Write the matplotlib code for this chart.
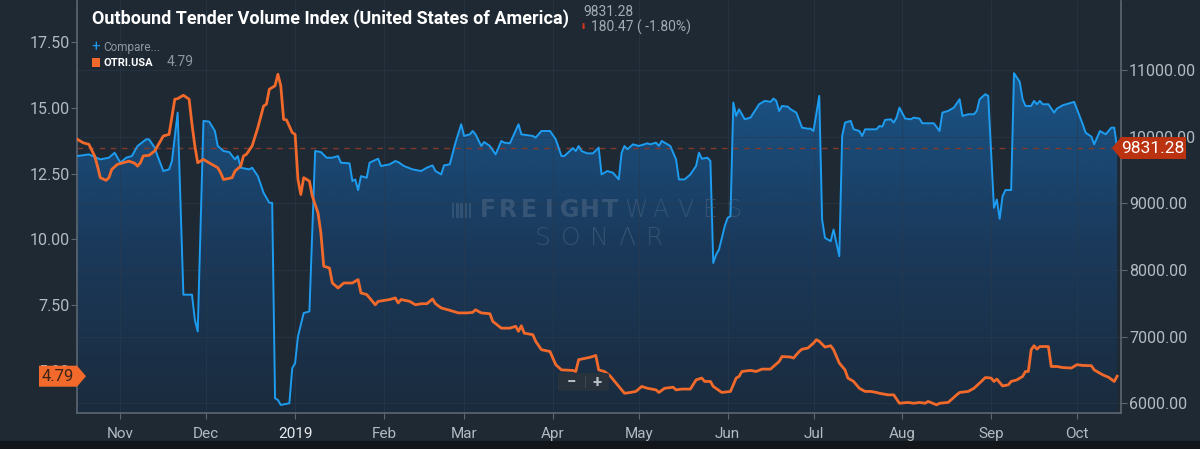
import numpy as np
import pandas as pd
import matplotlib
matplotlib.use('Agg')
import matplotlib.pyplot as plt
import matplotlib.dates as mdates
from matplotlib.colors import LinearSegmentedColormap
from matplotlib.patches import Polygon, Rectangle, FancyBboxPatch

# === Data ===
# Outbound Tender Volume Index (right axis, blue)
tvi_dates = [
    '2018-10-17', '2018-10-21', '2018-10-25', '2018-10-28', '2018-10-30', '2018-11-01', '2018-11-03', '2018-11-05',
    '2018-11-07', '2018-11-10', '2018-11-11', '2018-11-13', '2018-11-14', '2018-11-16', '2018-11-18', '2018-11-19',
    '2018-11-21', '2018-11-23', '2018-11-26', '2018-11-27', '2018-11-28', '2018-11-30', '2018-12-02', '2018-12-04',
    '2018-12-05', '2018-12-07', '2018-12-09', '2018-12-11', '2018-12-12', '2018-12-13', '2018-12-16', '2018-12-17',
    '2018-12-19', '2018-12-21', '2018-12-23', '2018-12-24', '2018-12-25', '2018-12-26', '2018-12-27', '2018-12-30',
    '2018-12-31', '2019-01-01', '2019-01-02', '2019-01-04', '2019-01-06', '2019-01-08', '2019-01-10', '2019-01-12',
    '2019-01-14', '2019-01-16', '2019-01-17', '2019-01-20', '2019-01-21', '2019-01-22', '2019-01-23', '2019-01-24',
    '2019-01-26', '2019-01-27', '2019-01-30', '2019-01-31', '2019-02-03', '2019-02-05', '2019-02-06', '2019-02-08',
    '2019-02-11', '2019-02-14', '2019-02-16', '2019-02-18', '2019-02-19', '2019-02-21', '2019-02-22', '2019-02-24',
    '2019-02-26', '2019-02-28', '2019-03-01', '2019-03-03', '2019-03-04', '2019-03-05', '2019-03-07', '2019-03-08',
    '2019-03-10', '2019-03-12', '2019-03-14', '2019-03-15', '2019-03-17', '2019-03-20', '2019-03-21', '2019-03-25',
    '2019-03-26', '2019-03-28', '2019-03-31', '2019-04-02', '2019-04-04', '2019-04-05', '2019-04-08', '2019-04-09',
    '2019-04-10', '2019-04-11', '2019-04-13', '2019-04-15', '2019-04-17', '2019-04-18', '2019-04-20', '2019-04-22',
    '2019-04-24', '2019-04-25', '2019-04-26', '2019-04-27', '2019-04-29', '2019-05-01', '2019-05-04', '2019-05-05',
    '2019-05-07', '2019-05-08', '2019-05-09', '2019-05-12', '2019-05-14', '2019-05-15', '2019-05-17', '2019-05-19',
    '2019-05-21', '2019-05-22', '2019-05-23', '2019-05-25', '2019-05-26', '2019-05-27', '2019-05-28', '2019-05-29',
    '2019-05-31', '2019-06-01', '2019-06-02', '2019-06-03', '2019-06-04', '2019-06-05', '2019-06-07', '2019-06-09',
    '2019-06-12', '2019-06-14', '2019-06-16', '2019-06-17', '2019-06-18', '2019-06-19', '2019-06-20', '2019-06-22',
    '2019-06-23', '2019-06-25', '2019-06-27', '2019-06-29', '2019-06-30', '2019-07-01', '2019-07-03', '2019-07-04',
    '2019-07-05', '2019-07-07', '2019-07-08', '2019-07-09', '2019-07-10', '2019-07-11', '2019-07-12', '2019-07-14',
    '2019-07-15', '2019-07-17', '2019-07-18', '2019-07-19', '2019-07-23', '2019-07-24', '2019-07-25', '2019-07-26',
    '2019-07-28', '2019-07-29', '2019-07-30', '2019-07-31', '2019-08-02', '2019-08-04', '2019-08-05', '2019-08-07',
    '2019-08-08', '2019-08-12', '2019-08-14', '2019-08-15', '2019-08-17', '2019-08-19', '2019-08-21', '2019-08-22',
    '2019-08-24', '2019-08-26', '2019-08-27', '2019-08-28', '2019-08-30', '2019-08-31', '2019-09-02', '2019-09-03',
    '2019-09-04', '2019-09-05', '2019-09-06', '2019-09-08', '2019-09-09', '2019-09-11', '2019-09-12', '2019-09-13',
    '2019-09-15', '2019-09-16', '2019-09-17', '2019-09-18', '2019-09-19', '2019-09-21', '2019-09-23', '2019-09-24',
    '2019-09-26', '2019-09-30', '2019-10-01', '2019-10-03', '2019-10-04', '2019-10-06', '2019-10-07', '2019-10-09',
    '2019-10-11', '2019-10-13', '2019-10-14', '2019-10-15',
]
tvi_values = [
    9711, 9736, 9661, 9686, 9761, 9611, 9686, 9711,
    9862, 9962, 9962, 9837, 9711, 9486, 9511, 9636,
    10363, 7630, 7630, 7254, 7078, 10238, 10228, 10087,
    9862, 9786, 9771, 9661, 9711, 9536, 9511, 9536,
    9410, 9159, 9009, 9009, 6075, 6050, 5975, 6000,
    6527, 6602, 7003, 7354, 7379, 9786, 9771, 9686,
    9686, 9711, 9611, 9601, 9335, 9360, 9200, 9410,
    9385, 9611, 9671, 9561, 9586, 9636, 9621, 9561,
    9511, 9486, 9536, 9571, 9486, 9435, 9571, 9586,
    9912, 10188, 10012, 10037, 10087, 10037, 9862, 9922,
    9862, 9736, 9937, 9912, 9902, 10188, 10037, 10012,
    9987, 10087, 10087, 9962, 9711, 9711, 9830, 9786,
    9862, 9786, 9751, 9751, 9837, 9435, 9486, 9460,
    9360, 9761, 9862, 9812, 9887, 9862, 9902, 9887,
    9912, 9862, 9937, 9862, 9661, 9360, 9360, 9435,
    9561, 9761, 9671, 9686, 9636, 8106, 8232, 8307,
    8658, 8783, 8808, 10514, 10313, 10413, 10263, 10288,
    10488, 10539, 10524, 10574, 10540, 10388, 10463, 10453,
    10413, 10363, 10137, 10122, 10122, 10087, 10614, 8758,
    8483, 8432, 8608, 8407, 8207, 10012, 10213, 10238,
    10112, 10087, 10012, 10112, 10112, 10162, 10152, 10253,
    10263, 10213, 10288, 10438, 10273, 10263, 10288, 10273,
    10203, 10203, 10087, 10363, 10388, 10438, 10564, 10313,
    10338, 10338, 10388, 10564, 10639, 10614, 8934, 9059,
    8768, 9109, 9200, 9200, 10955, 10824, 10564, 10463,
    10463, 10539, 10488, 10539, 10488, 10488, 10363, 10423,
    10473, 10524, 10413, 10188, 10062, 10002, 9887, 10087,
    10037, 10137, 10137, 9831.28,
]

# Outbound Tender Reject Index OTRI.USA (left axis, orange)
otri_dates = [
    '2018-10-17', '2018-10-19', '2018-10-21', '2018-10-23', '2018-10-24', '2018-10-25', '2018-10-27', '2018-10-28',
    '2018-10-29', '2018-10-31', '2018-11-03', '2018-11-04', '2018-11-06', '2018-11-07', '2018-11-08', '2018-11-09',
    '2018-11-11', '2018-11-13', '2018-11-14', '2018-11-16', '2018-11-18', '2018-11-20', '2018-11-21', '2018-11-23',
    '2018-11-25', '2018-11-26', '2018-11-27', '2018-11-28', '2018-11-30', '2018-12-01', '2018-12-04', '2018-12-05',
    '2018-12-06', '2018-12-07', '2018-12-10', '2018-12-11', '2018-12-13', '2018-12-14', '2018-12-15', '2018-12-17',
    '2018-12-19', '2018-12-21', '2018-12-22', '2018-12-23', '2018-12-25', '2018-12-26', '2018-12-27', '2018-12-28',
    '2018-12-29', '2018-12-31', '2019-01-01', '2019-01-02', '2019-01-03', '2019-01-04', '2019-01-06', '2019-01-07',
    '2019-01-09', '2019-01-10', '2019-01-11', '2019-01-13', '2019-01-14', '2019-01-16', '2019-01-18', '2019-01-21',
    '2019-01-23', '2019-01-24', '2019-01-26', '2019-01-29', '2019-01-30', '2019-02-03', '2019-02-05', '2019-02-06',
    '2019-02-07', '2019-02-10', '2019-02-12', '2019-02-14', '2019-02-16', '2019-02-18', '2019-02-19', '2019-02-21',
    '2019-02-24', '2019-02-27', '2019-03-02', '2019-03-04', '2019-03-05', '2019-03-07', '2019-03-10', '2019-03-11',
    '2019-03-14', '2019-03-17', '2019-03-19', '2019-03-20', '2019-03-21', '2019-03-22', '2019-03-25', '2019-03-26',
    '2019-03-28', '2019-03-31', '2019-04-02', '2019-04-04', '2019-04-08', '2019-04-09', '2019-04-10', '2019-04-14',
    '2019-04-16', '2019-04-17', '2019-04-19', '2019-04-21', '2019-04-26', '2019-04-28', '2019-04-30', '2019-05-02',
    '2019-05-04', '2019-05-07', '2019-05-08', '2019-05-10', '2019-05-13', '2019-05-14', '2019-05-16', '2019-05-19',
    '2019-05-21', '2019-05-23', '2019-05-24', '2019-05-26', '2019-05-27', '2019-05-30', '2019-06-02', '2019-06-03',
    '2019-06-04', '2019-06-05', '2019-06-06', '2019-06-09', '2019-06-11', '2019-06-13', '2019-06-16', '2019-06-17',
    '2019-06-19', '2019-06-20', '2019-06-23', '2019-06-24', '2019-06-26', '2019-06-27', '2019-06-29', '2019-07-01',
    '2019-07-02', '2019-07-03', '2019-07-05', '2019-07-07', '2019-07-08', '2019-07-10', '2019-07-12', '2019-07-13',
    '2019-07-15', '2019-07-17', '2019-07-18', '2019-07-19', '2019-07-21', '2019-07-23', '2019-07-24', '2019-07-27',
    '2019-07-29', '2019-07-30', '2019-07-31', '2019-08-03', '2019-08-05', '2019-08-07', '2019-08-09', '2019-08-10',
    '2019-08-13', '2019-08-14', '2019-08-17', '2019-08-20', '2019-08-21', '2019-08-24', '2019-08-26', '2019-08-28',
    '2019-08-30', '2019-09-01', '2019-09-02', '2019-09-03', '2019-09-05', '2019-09-07', '2019-09-08', '2019-09-10',
    '2019-09-12', '2019-09-13', '2019-09-14', '2019-09-15', '2019-09-16', '2019-09-17', '2019-09-18', '2019-09-21',
    '2019-09-22', '2019-09-24', '2019-09-26', '2019-09-29', '2019-10-01', '2019-10-03', '2019-10-06', '2019-10-07',
    '2019-10-10', '2019-10-12', '2019-10-14', '2019-10-15',
]
otri_values = [
    13.81, 13.68, 13.62, 13.18, 12.79, 12.35, 12.25, 12.35,
    12.67, 12.86, 12.95, 12.98, 12.90, 12.79, 12.92, 13.18,
    13.20, 13.37, 13.56, 13.94, 14.00, 15.34, 15.36, 15.49,
    15.34, 14.38, 13.56, 12.92, 13.05, 12.98, 12.79, 12.73,
    12.54, 12.28, 12.35, 12.60, 12.79, 13.18, 13.24, 13.56,
    14.26, 15.08, 15.15, 15.72, 15.85, 16.29, 15.85, 14.57,
    14.55, 14.07, 14.00, 12.28, 11.71, 12.35, 12.22, 11.65,
    11.01, 10.25, 8.98, 8.91, 8.34, 8.15, 8.34, 8.34,
    8.47, 7.96, 7.90, 7.51, 7.64, 7.71, 7.77, 7.58,
    7.71, 7.64, 7.51, 7.55, 7.55, 7.73, 7.55, 7.39,
    7.30, 7.20, 7.20, 7.22, 7.32, 7.20, 7.17, 6.88,
    6.62, 6.62, 6.69, 6.50, 6.71, 6.43, 6.37, 6.12,
    5.80, 5.73, 5.23, 5.03, 5.01, 4.97, 5.42, 5.51,
    5.58, 5.03, 4.97, 4.80, 4.14, 4.17, 4.21, 4.40,
    4.33, 4.27, 4.17, 4.33, 4.37, 4.27, 4.30, 4.30,
    4.65, 4.72, 4.59, 4.59, 4.40, 4.17, 4.21, 4.46,
    4.72, 4.78, 4.97, 5.01, 4.97, 5.06, 5.06, 5.16,
    5.35, 5.54, 5.52, 5.48, 5.73, 5.82, 5.86, 6.05,
    6.18, 6.12, 5.90, 5.95, 5.80, 5.29, 5.03, 4.72,
    4.59, 4.33, 4.27, 4.21, 4.21, 4.17, 4.14, 4.08,
    4.08, 3.92, 3.76, 3.79, 3.76, 3.79, 3.76, 3.83,
    3.70, 3.76, 3.79, 4.08, 4.17, 4.21, 4.33, 4.53,
    4.74, 4.72, 4.59, 4.68, 4.42, 4.46, 4.59, 4.65,
    4.78, 4.97, 4.97, 5.80, 5.95, 5.82, 5.92, 5.92,
    5.16, 5.16, 5.12, 5.10, 5.23, 5.20, 5.19, 5.03,
    4.84, 4.75, 4.59, 4.79,
]

month_starts = ['2018-11-01', '2018-12-01', '2019-01-01', '2019-02-01', '2019-03-01', '2019-04-01',
                '2019-05-01', '2019-06-01', '2019-07-01', '2019-08-01', '2019-09-01', '2019-10-01']
month_labels = ['Nov', 'Dec', '2019', 'Feb', 'Mar', 'Apr', 'May', 'Jun', 'Jul', 'Aug', 'Sep', 'Oct']
right_ticks = [6000, 7000, 8000, 9000, 10000, 11000]
left_ticks = [5, 7.5, 10, 12.5, 15, 17.5]

title = 'Outbound Tender Volume Index (United States of America)'
last_tvi = 9831.28
last_otri = 4.79
change_text = '180.47 ( -1.80%)'

# === Style ===
W, H = 1200, 449
BG = '#1e2934'
AXIS = '#5c6772'
TICK = '#b3bac1'
BLUE = '#1d9cf0'
ORANGE = '#f26a2b'
TAG_RED = '#bb3210'

plt.rcParams['font.family'] = ['Roboto', 'DejaVu Sans']

fig = plt.figure(figsize=(W / 100, H / 100), dpi=100, facecolor=BG)
# dark strip at the bottom of the panel
fig.add_artist(Rectangle((0, 0), 1, 8 / H, transform=fig.transFigure, color='#12161b', zorder=0))

def fx(x):
    return x / W

def fy(y):
    return 1 - y / H

left, right, bottom, top = 76.7, 1120.7, 412.7, 1.0
ax = fig.add_axes([fx(left), fy(bottom), fx(right - left), (bottom - top) / H])
ax.set_facecolor(BG)

tvi_x = mdates.date2num(pd.to_datetime(tvi_dates))
otri_x = mdates.date2num(pd.to_datetime(otri_dates))
xmin = mdates.date2num(pd.Timestamp('2018-10-16 18:00'))
xmax = mdates.date2num(pd.Timestamp('2019-10-16 06:00'))
r_lo, r_hi = 5859, 12038
l_lo, l_hi = 3.40, 19.08

# gradient area under the blue line
poly = ax.fill_between(tvi_x, tvi_values, r_lo, color='none', lw=0)
grad = np.linspace(0, 1, 256).reshape(-1, 1)
cmap = LinearSegmentedColormap.from_list('sonar', ['#1b2b3d', '#1a3a5c', '#1a5588'])
im = ax.imshow(grad, extent=[xmin, xmax, r_lo, 11000], origin='lower', aspect='auto',
               cmap=cmap, zorder=0.2, interpolation='bilinear')
im.set_clip_path(poly.get_paths()[0], transform=ax.transData)

ax.plot(tvi_x, tvi_values, color=BLUE, lw=1.4, zorder=3)
ax.axhline(last_tvi, color='#83392a', lw=1, ls=(0, (4, 4)), zorder=2.5)

ax.set_xlim(xmin, xmax)
ax.set_ylim(r_lo, r_hi)
ax.set_xticks(mdates.date2num(pd.to_datetime(month_starts)))
ax.set_xticklabels(month_labels)
ax.tick_params(axis='x', colors=AXIS, labelcolor=TICK, labelsize=11, length=4, pad=6)
ax.get_xticklabels()[2].set_color('#e8ebee')
ax.set_axisbelow(True)
ax.grid(True, color='#2a3a4c', lw=0.7, alpha=0.6)
ax.spines['top'].set_visible(False)
for side in ['left', 'right', 'bottom']:
    ax.spines[side].set_color(AXIS)
    ax.spines[side].set_linewidth(1.2)

# orange series on the left axis
ax2 = ax.twinx()
ax2.plot(otri_x, otri_values, color=ORANGE, lw=2, zorder=3)
ax2.set_ylim(l_lo, l_hi)
ax2.yaxis.tick_left()
ax2.set_yticks(left_ticks)
ax2.set_yticklabels([f'{v:.2f}' for v in left_ticks])
ax2.tick_params(axis='y', colors=AXIS, labelcolor=TICK, labelsize=11.5, length=4, pad=1)
for side in ['top', 'right', 'left', 'bottom']:
    ax2.spines[side].set_visible(False)

# blue axis ticks on the right (after twinx, which moves them left)
ax.yaxis.tick_right()
ax.set_yticks(right_ticks)
ax.set_yticklabels([f'{v:.2f}' for v in right_ticks])
ax.tick_params(axis='y', colors=AXIS, labelcolor=TICK, labelsize=11.5, length=4, pad=2)

# watermark
wm = '#4a6583'
for i, ch in enumerate('FREIGHT'):
    fig.text(fx(488 + i * 20.3), fy(210), ch, color=wm, alpha=0.6, fontsize=17, weight='heavy',
             ha='center', va='center', family='DejaVu Sans')
for i, ch in enumerate('WAVES'):
    fig.text(fx(636 + i * 24.5), fy(210), ch, color=wm, alpha=0.55, fontsize=17, weight='light',
             ha='center', va='center', family='DejaVu Sans')
for i, ch in enumerate('SON\u039bR'):
    fig.text(fx(543 + i * 28), fy(238), ch, color=wm, alpha=0.55, fontsize=18, weight='light',
             ha='center', va='center', family='DejaVu Sans')
for i in range(5):
    fig.add_artist(Rectangle((fx(452 + i * 4.2), fy(218)), 2.4 / W, 15 / H, transform=fig.transFigure,
                             color=wm, alpha=0.5, lw=0))

# zoom control
fig.add_artist(FancyBboxPatch((fx(558), fy(391)), 51 / W, 18 / H, boxstyle='round,pad=0,rounding_size=0.004',
                              transform=fig.transFigure, color='#27323d', lw=0, zorder=5))
fig.text(fx(571), fy(382), '\u2212', color='#b9bfc5', fontsize=12, weight='bold', ha='center', va='center', zorder=6)
fig.text(fx(597), fy(382), '+', color='#b9bfc5', fontsize=12, weight='bold', ha='center', va='center', zorder=6)
fig.add_artist(Rectangle((fx(585), fy(388)), 1 / W, 12 / H, transform=fig.transFigure, color='#3c4854', lw=0, zorder=6))

# header
fig.text(fx(92), fy(19), title, color='white', fontsize=13, weight='bold', va='center')
fig.text(fx(583), fy(12), f'{last_tvi:.2f}', color='#a3abb3', fontsize=10, va='center')
fig.text(fx(583.5), fy(27), '\u2b07', color='#d2361c', fontsize=6, ha='center', va='center', family='DejaVu Sans')
fig.text(fx(591), fy(27), change_text, color='#a3abb3', fontsize=10, va='center')
fig.text(fx(91), fy(47), '+', color=BLUE, fontsize=11, va='center')
fig.text(fx(103), fy(47.5), 'Compare...', color='#8d97a1', fontsize=8.5, va='center')
fig.add_artist(Rectangle((fx(92), fy(67)), 7.5 / W, 9 / H, transform=fig.transFigure, color=ORANGE, lw=0))
fig.text(fx(103), fy(62.5), 'OTRI.USA', color='white', fontsize=8, weight='bold', va='center')
fig.text(fx(167), fy(62.5), f'{last_otri:.2f}', color='#8d97a1', fontsize=10, va='center')

# value tags on both axes
fig.canvas.draw()
y_r = ax.transData.transform((xmin, last_tvi))[1]
y_l = ax2.transData.transform((xmin, last_otri))[1]
fig.add_artist(Polygon([(fx(1112), y_r / H), (fx(1121), (y_r + 11) / H), (fx(1186), (y_r + 11) / H),
                        (fx(1186), (y_r - 11) / H), (fx(1121), (y_r - 11) / H)],
                       closed=True, transform=fig.transFigure, color=TAG_RED, lw=0, zorder=7))
fig.text(fx(1153), (y_r - 0.5) / H, f'{last_tvi:.2f}', color='white', fontsize=12.5, ha='center', va='center', zorder=8)
fig.add_artist(Polygon([(fx(39), (y_l + 10.5) / H), (fx(77), (y_l + 10.5) / H), (fx(86), y_l / H),
                        (fx(77), (y_l - 10.5) / H), (fx(39), (y_l - 10.5) / H)],
                       closed=True, transform=fig.transFigure, color=ORANGE, lw=0, zorder=7))
fig.text(fx(58), (y_l - 0.5) / H, f'{last_otri:.2f}', color='#3b2418', fontsize=12, ha='center', va='center', zorder=8)

fig.savefig('out.png', dpi=100, facecolor=BG)
